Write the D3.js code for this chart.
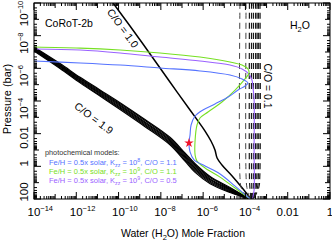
<!DOCTYPE html>
<html>
<head>
<meta charset="utf-8">
<script src="https://cdn.jsdelivr.net/npm/d3@7"></script>
<style>
  body { margin: 0; background: #fff; }
  svg { display: block; }
  text { font-family: "Liberation Sans", Arial, sans-serif; }
</style>
</head>
<body>
<svg id="chart" width="332" height="242"></svg>
<script>
// all values are log10(mole fraction), log10(pressure / bar)

// black bundle (C/O = 1.9 ... high C/O models), common x grid
const bundleX = [-14, -12.77, -11.82, -10.88, -9.93, -8.75, -7.57, -6.86, -6.38, -5.67, -4.73, -3.78];
const bundleP = [
  [-7.30, -6.29, -5.45, -4.68, -3.90, -2.87, -1.78, -0.82, -0.16, 0.62, 1.30, 2.0],
  [-7.26, -6.24, -5.39, -4.62, -3.83, -2.80, -1.70, -0.74, -0.08, 0.69, 1.35, 2.0],
  [-7.22, -6.19, -5.34, -4.55, -3.76, -2.72, -1.63, -0.65, 0.01, 0.77, 1.40, 2.0],
  [-7.18, -6.14, -5.28, -4.49, -3.69, -2.65, -1.55, -0.57, 0.10, 0.84, 1.45, 2.0],
  [-7.14, -6.09, -5.22, -4.43, -3.62, -2.58, -1.47, -0.49, 0.19, 0.91, 1.50, 2.0],
  [-7.10, -6.04, -5.17, -4.36, -3.55, -2.50, -1.40, -0.40, 0.28, 0.99, 1.55, 2.0],
  [-7.06, -5.99, -5.11, -4.30, -3.48, -2.43, -1.32, -0.32, 0.37, 1.06, 1.60, 2.0]
];

// C/O = 1.0 equilibrium profile
const co10X = [-10.26, -9.46, -8.51, -7.57, -6.62, -6.24, -5.91, -5.63, -5.44, -5.34, -5.11, -4.63, -4.11, -3.74];
const co10P = [-10, -8.59, -6.88, -5.16, -3.45, -2.77, -2.16, -1.55, -1.00, -0.51, -0.08, 0.59, 1.39, 2.0];

// low C/O dashed profiles (C/O = 0.1 ...), x at each pressure level
const dashP = [-10, 0.6, 1.3, 2];
const dashX = [
  [-4.26, -4.26, -4.20, -3.88],
  [-3.97, -3.97, -3.93, -3.80],
  [-3.81, -3.81, -3.79, -3.74],
  [-3.71, -3.71, -3.70, -3.72],
  [-3.62, -3.62, -3.62, -3.70],
  [-3.52, -3.53, -3.55, -3.68],
  [-3.45, -3.46, -3.49, -3.66],
  [-3.38, -3.39, -3.43, -3.64],
  [-3.31, -3.32, -3.37, -3.62]
];

// photochemical models
const blueX = [-14, -11.82, -9.93, -8.04, -6.15, -4.73, -4.16, -3.88, -4.02, -4.35, -4.82, -5.44, -6.01, -6.38, -6.57, -6.62, -6.67, -6.62, -6.43, -5.91, -5.20, -4.49, -3.78];
const blueP = [-6.45, -6.33, -6.20, -6.02, -5.84, -5.59, -5.35, -5.10, -4.92, -4.67, -4.24, -3.82, -3.45, -3.08, -2.53, -1.92, -1.43, -0.88, -0.39, -0.02, 0.47, 1.21, 2.0];
const greenX = [-14, -11.82, -9.93, -8.04, -6.15, -4.73, -4.16, -3.88, -3.83, -4.02, -4.49, -5.11, -5.77, -6.15, -6.29, -6.38, -6.38, -6.29, -5.91, -5.20, -4.49, -3.78];
const greenP = [-7.31, -7.24, -7.12, -6.94, -6.69, -6.39, -6.20, -5.96, -5.71, -5.35, -4.67, -3.94, -3.33, -2.96, -2.53, -1.61, -0.69, -0.32, 0.10, 0.66, 1.33, 2.0];
const purpleX = [-14, -11.82, -9.93, -8.04, -6.15, -4.73, -4.16, -3.83, -3.69, -3.64, -3.59, -3.59, -3.59, -3.64, -3.69];
const purpleP = [-7.18, -7.12, -6.94, -6.69, -6.45, -6.20, -5.96, -5.65, -5.28, -4.79, -4.06, -1.0, 1.45, 1.82, 2.0];

const starPoint = [-6.67, -1.43];

const xLabelDecades = [-14, -12, -10, -8, -6, -4, -2, 0];
const yLabelDecades = [-10, -8, -6, -4, -2, 0, 2];

const legendRows = [
  { color: "#5573ff", kzz: "8", co: "1.1" },
  { color: "#77e024", kzz: "9", co: "1.1" },
  { color: "#9a62ff", kzz: "9", co: "0.5" }
];

const svg = d3.select("#chart");
const pL = 34, pR = 330, pT = 3, pB = 199;

const x = d3.scaleLog().domain([1e-14, 1]).range([pL, pR]);
const y = d3.scaleLog().domain([1e-10, 100]).range([pT, pB]);

const line = d3.line()
  .x(d => x(Math.pow(10, d[0])))
  .y(d => y(Math.pow(10, d[1])))
  .curve(d3.curveCatmullRom.alpha(0.5));

svg.append("clipPath").attr("id", "plot")
  .append("rect").attr("x", pL).attr("y", pT)
  .attr("width", pR - pL).attr("height", pB - pT);

const g = svg.append("g").attr("clip-path", "url(#plot)");

// black bundle
bundleP.forEach(ps => {
  g.append("path")
    .attr("d", line(bundleX.map((v, i) => [v, ps[i]])))
    .attr("fill", "none").attr("stroke", "#000").attr("stroke-width", 1.2);
});

// C/O = 1.0
g.append("path")
  .attr("d", line(co10X.map((v, i) => [v, co10P[i]])))
  .attr("fill", "none").attr("stroke", "#000").attr("stroke-width", 1.5);

// dashed low C/O profiles
dashX.forEach((xs, k) => {
  g.append("path")
    .attr("d", line(xs.map((v, i) => [v, dashP[i]])))
    .attr("fill", "none").attr("stroke", k < 2 ? "#444" : "#1a1a1a")
    .attr("stroke-width", k < 2 ? 1 : 1.2)
    .attr("stroke-dasharray", "6,4");
});

// photochemical models
[[purpleX, purpleP, legendRows[2].color],
 [greenX, greenP, legendRows[1].color],
 [blueX, blueP, legendRows[0].color]].forEach(([xs, ps, c]) => {
  g.append("path")
    .attr("d", line(xs.map((v, i) => [v, ps[i]])))
    .attr("fill", "none").attr("stroke", c).attr("stroke-width", 1.1);
});

g.append("path")
  .attr("d", d3.symbol(d3.symbolStar).size(28))
  .attr("transform", "translate(" + x(Math.pow(10, starPoint[0])) + "," + y(Math.pow(10, starPoint[1])) + ")")
  .attr("fill", "#f0142a");

// frame + ticks
svg.append("rect").attr("x", pL).attr("y", pT)
  .attr("width", pR - pL).attr("height", pB - pT)
  .attr("fill", "none").attr("stroke", "#000").attr("stroke-width", 1);

function logTicks(lo, hi) {
  const out = [];
  for (let d = lo; d <= hi; d++) {
    out.push({ v: Math.pow(10, d), len: d % 2 === 0 ? 7 : 5 });
    if (d < hi) for (let k = 2; k <= 9; k++) out.push({ v: k * Math.pow(10, d), len: 3 });
  }
  return out;
}

const axes = svg.append("g").attr("stroke", "#000").attr("stroke-width", 1);
logTicks(-14, 0).forEach(t => {
  const px = x(t.v);
  axes.append("line").attr("x1", px).attr("x2", px).attr("y1", pB).attr("y2", pB - t.len);
  axes.append("line").attr("x1", px).attr("x2", px).attr("y1", pT).attr("y2", pT + t.len);
});
logTicks(-10, 2).forEach(t => {
  const py = y(t.v);
  axes.append("line").attr("y1", py).attr("y2", py).attr("x1", pL).attr("x2", pL + t.len);
  axes.append("line").attr("y1", py).attr("y2", py).attr("x1", pR).attr("x2", pR - t.len);
});

// tick labels
function powLabel(sel, d) {
  if (d === -2) { sel.append("tspan").text("0.01"); return; }
  if (d === 0) { sel.append("tspan").text("1"); return; }
  if (d === 2) { sel.append("tspan").text("100"); return; }
  sel.append("tspan").text("10");
  sel.append("tspan").attr("dy", -5).attr("font-size", 7.5).text("\u2212" + (-d));
}

xLabelDecades.forEach(d => {
  const t = svg.append("text")
    .attr("x", x(Math.pow(10, d)) - (d <= -4 ? 6.5 : 0))
    .attr("y", 216).attr("font-size", 11.5)
    .attr("text-anchor", d <= -4 ? "start" : "middle");
  powLabel(t, d);
});

// label centre offsets along the axis, as placed in the original
const yLabelShift = { "-10": 10.5, "-8": 7.5, "-6": 7.5, "-4": 7.5, "-2": 4, "0": -3, "2": -7 };
yLabelDecades.forEach(d => {
  const py = y(Math.pow(10, d)) + yLabelShift[d];
  const t = svg.append("text")
    .attr("transform", "translate(28," + py + ") rotate(-90)")
    .attr("font-size", 11.5)
    .attr("text-anchor", "middle");
  powLabel(t, d);
});

// axis titles
svg.append("text")
  .attr("transform", "translate(11,99) rotate(-90)")
  .attr("text-anchor", "middle").attr("font-size", 11)
  .attr("font-family", "DejaVu Sans")
  .text("Pressure (bar)");

const xt = svg.append("text")
  .attr("x", 183).attr("y", 237).attr("text-anchor", "middle")
  .attr("font-size", 10.5).attr("font-family", "DejaVu Sans");
xt.append("tspan").text("Water (H");
xt.append("tspan").attr("dy", 3).attr("font-size", 7.5).text("2");
xt.append("tspan").attr("dy", -3).text("O) Mole Fraction");

// annotations
svg.append("text").attr("x", 45).attr("y", 27).attr("font-size", 10.5).text("CoRoT-2b");

const h2o = svg.append("text").attr("x", 290).attr("y", 29).attr("font-size", 10.5);
h2o.append("tspan").text("H");
h2o.append("tspan").attr("dy", 3).attr("font-size", 7.5).text("2");
h2o.append("tspan").attr("dy", -3).text("O");

svg.append("text")
  .attr("transform", "translate(123,28) rotate(54)")
  .attr("text-anchor", "middle").attr("font-size", 10.5)
  .attr("dominant-baseline", "central")
  .text("C/O = 1.0");

svg.append("text")
  .attr("transform", "translate(94,118) rotate(37)")
  .attr("text-anchor", "middle").attr("font-size", 10.5)
  .attr("dominant-baseline", "central")
  .text("C/O = 1.9");

svg.append("text")
  .attr("transform", "translate(268,86) rotate(90)")
  .attr("text-anchor", "middle").attr("font-size", 10.5)
  .attr("dominant-baseline", "central")
  .text("C/O = 0.1");

// legend
svg.append("text").attr("x", 45).attr("y", 155).attr("font-size", 7.3).attr("fill", "#333")
  .text("photochemical models:");

legendRows.forEach((r, i) => {
  const t = svg.append("text").attr("x", 49).attr("y", 164.5 + i * 9)
    .attr("font-size", 7.5).attr("fill", r.color);
  t.append("tspan").text("Fe/H = 0.5x solar, K");
  t.append("tspan").attr("dy", 2).attr("font-size", 5.3).text("zz");
  t.append("tspan").attr("dy", -2).text(" = 10");
  t.append("tspan").attr("dy", -3).attr("font-size", 5.3).text(r.kzz);
  t.append("tspan").attr("dy", 3).text(", C/O = " + r.co);
});
</script>
</body>
</html>
